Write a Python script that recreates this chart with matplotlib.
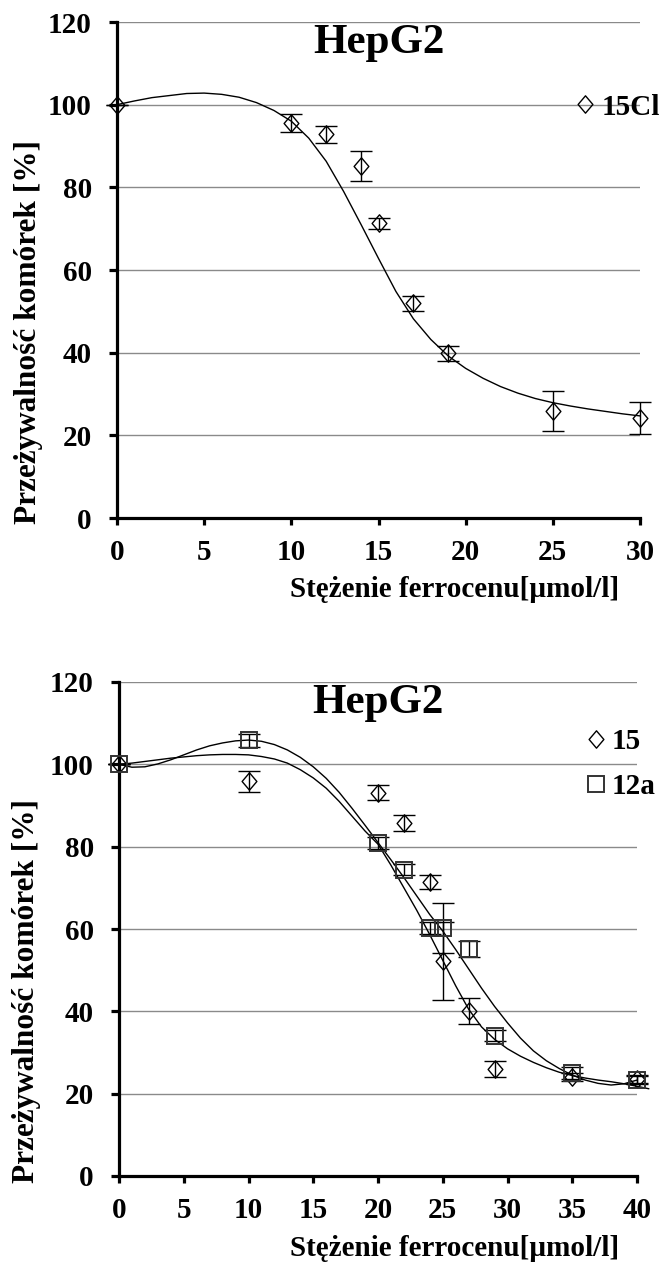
import numpy as np
import matplotlib
matplotlib.use('Agg')
import matplotlib.pyplot as plt
from matplotlib.path import Path

plt.rcParams['font.family'] = ['Liberation Serif', 'DejaVu Serif']
plt.rcParams['font.weight'] = 'bold'

# --- panel 1: HepG2, compound 15Cl
conc_1 = [0, 10, 12, 14, 15, 17, 19, 25, 30]
surv_15cl = [100, 95.6, 92.8, 85.2, 71.3, 51.9, 39.8, 25.9, 24.1]
err_15cl = [0, 2.1, 2.0, 3.7, 1.3, 1.9, 1.8, 4.85, 3.85]

fit_x_1 = list(range(31))
fit_15cl = [100, 100.9, 101.7, 102.2, 102.7, 102.8, 102.5, 101.8, 100.5, 98.6,
            96.0, 91.9, 86.3, 79.0, 71.0, 62.8, 54.8, 48.2, 43.2, 39.2,
            36.2, 33.8, 31.8, 30.2, 28.9, 27.9, 27.1, 26.4, 25.8, 25.2, 24.7]

# --- panel 2: HepG2, compounds 15 and 12a
conc_2 = [0, 10, 20, 22, 24, 25, 27, 29, 35, 40]
surv_15 = [100, 95.9, 93.1, 85.7, 71.4, 52.2, 40.1, 26.0, 24.0, 23.6]
err_15 = [0, 2.5, 1.8, 1.9, 1.8, 9.5, 3.2, 2.0, 1.0, 1.0]
surv_12a = [100, 105.8, 80.9, 74.4, 60.3, 60.2, 55.1, 34.1, 25.0, 23.4]
err_12a = [0, 1.5, 1.5, 1.3, 1.5, 6.1, 2.0, 1.3, 1.5, 1.0]

fit_x_15 = list(range(41)) + [40.9]
fit_15 = [100, 100.3, 100.7, 101.1, 101.5, 101.8, 102.1, 102.3, 102.4, 102.4,
          102.3, 101.9, 101.3, 100.3, 98.7, 96.7, 94.2, 91.0, 87.4, 83.8,
          80.6, 75.5, 70.0, 64.5, 58.6, 52.4, 46.2, 40.5, 36.2, 33.2,
          30.9, 29.1, 27.6, 26.3, 25.2, 24.4, 23.8, 23.3, 22.9, 22.4,
          21.8, 21.2]
fit_x_12a = list(range(41))
fit_12a = [100, 99.3, 99.4, 100.1, 101.1, 102.3, 103.5, 104.5, 105.2, 105.7,
           105.9, 105.6, 104.8, 103.5, 101.7, 99.4, 96.6, 93.2, 89.3, 85.2,
           81.0, 76.8, 72.5, 68.0, 63.5, 59.5, 55.0, 50.3, 45.6, 41.2,
           37.2, 33.5, 30.4, 28.0, 26.1, 24.5, 23.3, 22.5, 22.1, 22.4, 23.3]

yticks = [0, 20, 40, 60, 80, 100, 120]
ylabel = 'Przeżywalność komórek [%]'
xlabel = 'Stężenie ferrocenu[µmol/l]'
title = 'HepG2'

# slightly tall diamond, like the Excel one
diamond = Path([(0, 1), (0.85, 0), (0, -1), (-0.85, 0), (0, 1)],
               [Path.MOVETO, Path.LINETO, Path.LINETO, Path.LINETO, Path.CLOSEPOLY])

W, H = 659, 1265
fig = plt.figure(figsize=(W/100, H/100), dpi=100)


def setup_axes(ax, xmax, xstep, xlab_pos, ylab_pos):
    ax.set_xlim(0, xmax)
    ax.set_ylim(0, 120)
    ax.set_xticks(np.arange(0, xmax + 1, xstep))
    ax.set_yticks(yticks)
    for s in ['top', 'right']:
        ax.spines[s].set_visible(False)
    for s in ['left', 'bottom']:
        ax.spines[s].set_linewidth(2.3)
    ax.grid(axis='y', color='#8a8a8a', lw=1.0)
    ax.set_axisbelow(True)
    ax.tick_params(axis='both', direction='out', length=5, width=2.3,
                   labelsize=21, pad=10)
    ax.tick_params(axis='y', length=6, pad=12)
    ax.text(0.5, 0.995, title, transform=ax.transAxes, ha='center', va='top',
            fontsize=31, fontweight='bold')
    ax.text(xlab_pos[0], xlab_pos[1], xlabel, transform=ax.transAxes,
            ha='center', va='center', fontsize=21, fontweight='bold')
    ax.text(ylab_pos[0], ylab_pos[1], ylabel, transform=ax.transAxes,
            ha='center', va='center', rotation=90, fontsize=22.5,
            fontweight='bold')


def series(ax, x, y, err, marker, ms, mew, mec, label):
    ax.errorbar(x, y, yerr=err, fmt='none', ecolor='black', elinewidth=1.0,
                capsize=8, capthick=1.0, clip_on=False, zorder=3)
    ax.plot(x, y, ls='none', marker=marker, ms=ms, mfc='none', mec=mec,
            mew=mew, clip_on=False, zorder=4, label=label)


# top panel
ax1 = fig.add_axes([117/W, 1 - 518/H, 523/W, 496/H])
setup_axes(ax1, 30, 5, (0.645, -0.145), (-0.170, 0.375))
ax1.plot(fit_x_1, fit_15cl, color='black', lw=1.0, clip_on=False, zorder=2)
series(ax1, conc_1, surv_15cl, err_15cl, diamond, 12.5, 1.0, 'black', '15Cl')
ax1.legend(loc='center left', bbox_to_anchor=(0.87, (518 - 107)/496),
           frameon=False, handlelength=0.9, handletextpad=0.1,
           borderpad=0, borderaxespad=0, prop={'size': 21, 'weight': 'bold'})

# bottom panel
ax2 = fig.add_axes([119/W, 1 - 1176/H, 518/W, 494/H])
setup_axes(ax2, 40, 5, (0.648, -0.146), (-0.178, 0.374))
ax2.plot(fit_x_15, fit_15, color='black', lw=1.0, clip_on=False, zorder=2)
ax2.plot(fit_x_12a, fit_12a, color='black', lw=1.0, clip_on=False, zorder=2)
series(ax2, conc_2, surv_15, err_15, diamond, 12.5, 1.0, 'black', '15')
series(ax2, conc_2, surv_12a, err_12a, 's', 12, 1.4, '#333333', '12a')
ax2.legend(loc='center left', bbox_to_anchor=(0.895, (1176 - 764)/494),
           frameon=False, handlelength=0.9, handletextpad=0.1,
           labelspacing=0.6, borderpad=0, borderaxespad=0,
           prop={'size': 21, 'weight': 'bold'})

fig.savefig('out.png', dpi=100)
